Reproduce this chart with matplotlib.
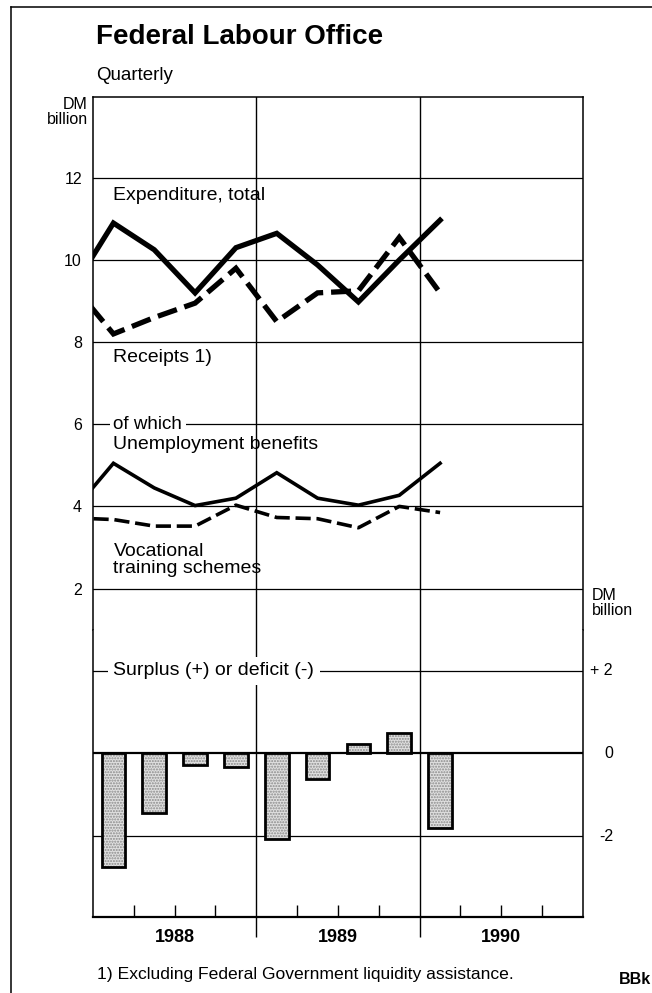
import matplotlib.pyplot as plt
from matplotlib.lines import Line2D
import numpy as np

plt.rcParams['font.family'] = ['Liberation Sans', 'DejaVu Sans']

# quarter index: 0 = 1988 Q1 ... 11 = 1990 Q4 ; -1 = 1987 Q4 (clipped at the left edge)
line_q = [-1, 0, 1, 2, 3, 4, 5, 6, 7, 8]
expenditure = [9.3, 10.9, 10.25, 9.2, 10.3, 10.65, 9.88, 8.98, 10.0, 10.97]
receipts = [9.4, 8.2, 8.6, 8.95, 9.8, 8.5, 9.2, 9.25, 10.55, 9.2]
unemployment = [3.87, 5.05, 4.45, 4.02, 4.2, 4.82, 4.2, 4.03, 4.27, 5.05]
vocational = [3.72, 3.68, 3.52, 3.52, 4.03, 3.73, 3.7, 3.48, 4.0, 3.85]

bar_q = [0, 1, 2, 3, 4, 5, 6, 7, 8]
balance = [-2.75, -1.45, -0.27, -0.33, -2.07, -0.63, 0.23, 0.5, -1.8]

years = ['1988', '1989', '1990']
upper_ticks = [2, 4, 6, 8, 10, 12]
lower_ticks = [2, 0, -2]
lower_labels = ['+ 2', '0', '-2']

W, H = 652, 993
fig = plt.figure(figsize=(W / 100, H / 100), dpi=100)

def fx(px):
    return px / W

def fy(py):
    return 1 - py / H

left, right = fx(93), fx(583)
ax1 = fig.add_axes([left, fy(630), right - left, fy(97) - fy(630)])
ax2 = fig.add_axes([left, fy(917), right - left, fy(630) - fy(917)])

for ax in (ax1, ax2):
    ax.set_xlim(-0.5, 11.5)
    for s in ax.spines.values():
        s.set_linewidth(1.1)
    for xv in (3.5, 7.5):
        ax.axvline(xv, color='black', lw=1.0, zorder=1)

# ---- upper panel
ax1.set_ylim(0.99, 13.97)
ax1.spines['bottom'].set_visible(False)
ax1.set_yticks(upper_ticks)
ax1.tick_params(axis='y', length=0, pad=8, labelsize=11.5)
ax1.set_xticks([])
for yv in upper_ticks:
    ax1.axhline(yv, color='black', lw=0.9, zorder=1)

ax1.plot(line_q, expenditure, color='black', lw=3.8, solid_joinstyle='miter', zorder=3)
ax1.plot(line_q, receipts, color='black', lw=3.8, ls=(0, (3.8, 1.5)),
         dash_joinstyle='miter', zorder=3)
ax1.plot(line_q, unemployment, color='black', lw=2.6, solid_joinstyle='miter', zorder=3)
ax1.plot(line_q, vocational, color='black', lw=2.6, ls=(0, (4.2, 1.6)), zorder=3)

ax1.text(0.0, 11.56, 'Expenditure, total', fontsize=14, va='center', ha='left')
ax1.text(0.0, 7.63, 'Receipts 1)', fontsize=14, va='center', ha='left')
ax1.text(0.0, 6.0, 'of which', fontsize=13.5, va='center', ha='left', zorder=4,
         bbox=dict(facecolor='white', edgecolor='none', boxstyle='square,pad=0.2'))
ax1.text(0.0, 5.5, 'Unemployment benefits', fontsize=14, va='center', ha='left', zorder=5)
ax1.text(0.0, 2.7, 'Vocational\ntraining schemes', fontsize=14, va='center', ha='left',
         linespacing=1.0)

# ---- lower panel
ax2.set_ylim(-3.96, 2.99)
ax2.spines['top'].set_visible(False)
ax2.spines['bottom'].set_linewidth(1.6)
ax2.set_yticks([])
ax2.axhline(2, color='black', lw=0.9, zorder=1)
ax2.axhline(-2, color='black', lw=0.9, zorder=1)
ax2.axhline(0, color='black', lw=1.6, zorder=4)

ax2.bar(bar_q, balance, width=0.58, color='#e0e0e0', hatch='......', edgecolor='#8a8a8a',
        lw=0, zorder=2)
ax2.bar(bar_q, balance, width=0.58, fill=False, edgecolor='black', lw=2.0, zorder=3)

ax2.text(0.0, 2.0, 'Surplus (+) or deficit (-)', fontsize=14, va='center', ha='left',
         zorder=4, bbox=dict(facecolor='white', edgecolor='none', boxstyle='square,pad=0.3'))

for yv, lab in zip(lower_ticks, lower_labels):
    ax2.text(1 + 30 / 490, yv, lab, transform=ax2.get_yaxis_transform(), fontsize=11.5,
             va='center', ha='right')

# x ticks: quarter ticks inside, year boundaries pointing down
quarter_ticks = [q + 0.5 for q in range(11) if (q + 1) % 4 != 0]
ax2.set_xticks(quarter_ticks)
ax2.set_xticklabels([])
ax2.tick_params(axis='x', which='major', direction='in', length=8.5, width=1.0)
ax2.set_xticks([3.5, 7.5], minor=True)
ax2.tick_params(axis='x', which='minor', direction='out', length=14.5, width=1.0)
ax2.tick_params(axis='y', length=0)
for i, yr in enumerate(years):
    ax2.text(1.5 + 4 * i, -0.072, yr, transform=ax2.get_xaxis_transform(),
             fontsize=13, fontweight='bold', ha='center', va='center')

# ---- figure texts
fig.text(fx(96), fy(37), 'Federal Labour Office', fontsize=20, fontweight='bold',
         va='center', ha='left')
fig.text(fx(96), fy(75), 'Quarterly', fontsize=13.5, va='center', ha='left')
fig.text(fx(88), fy(112), 'DM\nbillion', fontsize=11.5, va='center', ha='right',
         linespacing=1.05, multialignment='right')
fig.text(fx(592), fy(603), 'DM\nbillion', fontsize=11.5, va='center', ha='left',
         linespacing=1.05)
fig.text(fx(97), fy(975), '1) Excluding Federal Government liquidity assistance.',
         fontsize=12.6, va='center', ha='left')
fig.text(fx(651), fy(980), 'BBk', fontsize=11.5, fontweight='bold', va='center', ha='right')

# outer frame (left and top edges)
fig.add_artist(Line2D([fx(11), fx(11)], [fy(7), 0], color='black', lw=1.1))
fig.add_artist(Line2D([fx(11), 1], [fy(7), fy(7)], color='black', lw=1.1))

fig.savefig('out.png', dpi=100)
